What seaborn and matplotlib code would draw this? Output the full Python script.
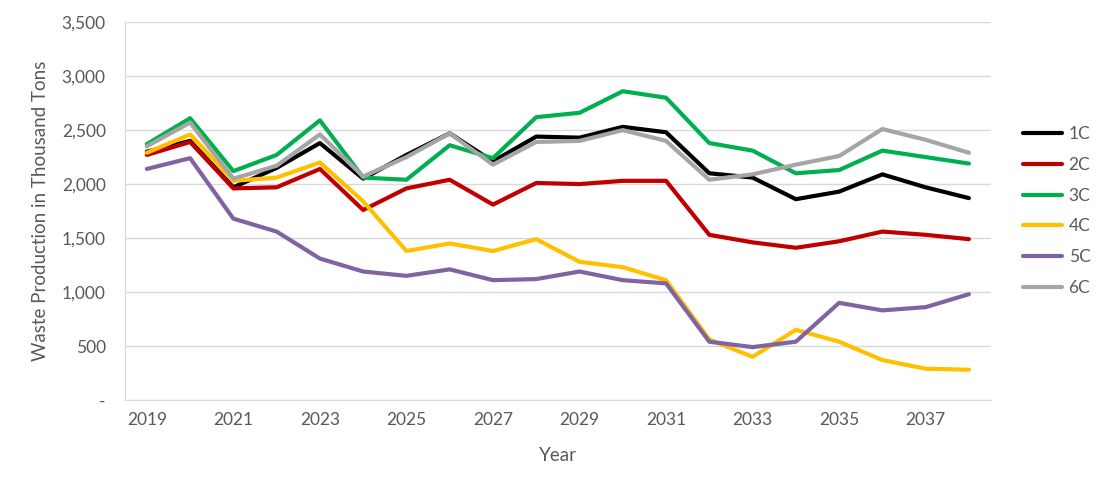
import numpy as np
import pandas as pd
import matplotlib
matplotlib.use('Agg')
import matplotlib.pyplot as plt
import seaborn as sns
from matplotlib.ticker import FuncFormatter

# values (thousand tons)
years = list(range(2019, 2039))
c1 = [2300, 2400, 1970, 2150, 2380, 2050, 2270, 2470, 2210, 2440,
      2430, 2530, 2480, 2100, 2060, 1860, 1930, 2090, 1970, 1870]
c2 = [2270, 2390, 1960, 1970, 2140, 1760, 1960, 2040, 1810, 2010,
      2000, 2030, 2030, 1530, 1460, 1410, 1470, 1560, 1530, 1490]
c3 = [2370, 2610, 2120, 2270, 2590, 2060, 2040, 2360, 2240, 2620,
      2660, 2860, 2800, 2380, 2310, 2100, 2130, 2310, 2250, 2190]
c4 = [2290, 2460, 2030, 2060, 2200, 1840, 1380, 1450, 1380, 1490,
      1280, 1230, 1110, 560, 400, 650, 540, 370, 290, 280]
c5 = [2140, 2240, 1680, 1560, 1310, 1190, 1150, 1210, 1110, 1120,
      1190, 1110, 1080, 540, 490, 540, 900, 830, 860, 980]
c6 = [2350, 2570, 2050, 2170, 2460, 2070, 2250, 2470, 2180, 2390,
      2400, 2500, 2400, 2040, 2090, 2180, 2260, 2510, 2410, 2290]

series = {'1C': c1, '2C': c2, '3C': c3, '4C': c4, '5C': c5, '6C': c6}
colors = ['#000000', '#C00000', '#00B050', '#FFC000', '#8064A2', '#A5A5A5']

df = pd.DataFrame(series, index=years).reset_index().rename(columns={'index': 'Year'})
long_df = df.melt(id_vars='Year', var_name='Scenario', value_name='Waste')

sns.set_style('white')
plt.rcParams['font.family'] = ['Lato', 'DejaVu Sans']
text_col = '#595959'
grid_col = '#D9D9D9'

fig = plt.figure(figsize=(11.08, 4.92), dpi=100)
ax = fig.add_axes([0.113, 0.187, 0.781, 0.768])

sns.lineplot(data=long_df, x='Year', y='Waste', hue='Scenario',
             palette=colors, linewidth=3.0, ax=ax, legend=True)

ax.set_ylim(0, 3500)
ax.set_yticks(np.arange(0, 3501, 500))
ax.yaxis.set_major_formatter(FuncFormatter(lambda v, p: '-' if v == 0 else f'{int(v):,}'))
ax.set_xlim(years[0] - 0.5, years[-1] + 0.5)
ax.set_xticks(years[::2])
ax.set_xticks(np.arange(years[0] - 0.5, years[-1] + 1), minor=True)
ax.tick_params(axis='x', which='major', length=0, pad=9, labelsize=12.5, labelcolor=text_col)
ax.tick_params(axis='x', which='minor', length=5, color=grid_col, width=1)
ax.tick_params(axis='y', length=0, pad=14, labelsize=12.5, labelcolor=text_col)
ax.grid(axis='y', color=grid_col, linewidth=1)
ax.set_axisbelow(True)

for s in ['top', 'right']:
    ax.spines[s].set_visible(False)
ax.spines['left'].set_color(grid_col)
ax.spines['bottom'].set_color(grid_col)

ax.set_xlabel('Year', fontsize=13.5, color=text_col)
ax.set_ylabel('Waste Production in Thousand Tons', fontsize=13.5, color=text_col)
ax.xaxis.set_label_coords(0.5, -0.125)
ax.yaxis.set_label_coords(-0.088, 0.5)

ax.legend(title=None, frameon=False, loc='center left', bbox_to_anchor=(1.02, 0.5),
          fontsize=12.5, labelcolor=text_col, handlelength=2.2, handletextpad=0.4,
          labelspacing=0.85)

fig.savefig('out.png', dpi=100)
